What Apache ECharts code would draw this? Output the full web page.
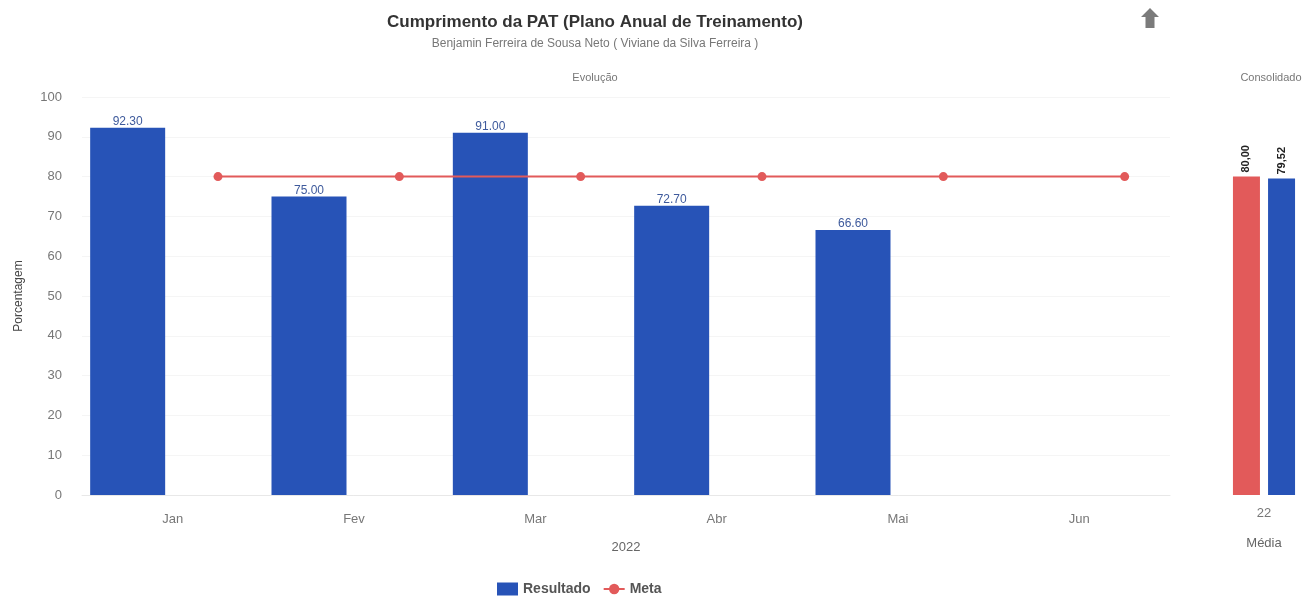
<!DOCTYPE html>
<html>
<head>
<meta charset="utf-8">
<title>Cumprimento da PAT</title>
<script src="https://cdn.jsdelivr.net/npm/echarts@6/dist/echarts.min.js"></script>
<style>
  html, body { margin: 0; padding: 0; background: #ffffff; }
  #chart { width: 1315px; height: 599px; }
</style>
</head>
<body>
<div id="chart"></div>
<script>
// Monthly results and target
const months = ['Jan', 'Fev', 'Mar', 'Abr', 'Mai', 'Jun'];
const resultado = [92.30, 75.00, 91.00, 72.70, 66.60, null];
const meta = [80, 80, 80, 80, 80, 80];

// Consolidated average panel
const consolidadoCategorias = ['22'];
const consolidadoMeta = [80.00];
const consolidadoResultado = [79.52];

const yTicks = [0, 10, 20, 30, 40, 50, 60, 70, 80, 90, 100];

const BLUE = '#2753b7';
const RED = '#e25a5a';
const FONT = 'Arial, "Liberation Sans", sans-serif';

const chart = echarts.init(document.getElementById('chart'));

// Meta points sit in the right-hand slot of each month band
const metaPoints = meta.map((v, i) => [i + 0.75, v]);

const avgLabel = {
  show: true, position: 'top', rotate: 90, distance: 4,
  align: 'left', verticalAlign: 'middle',
  fontSize: 11, fontWeight: 'bold', color: '#222',
  formatter: p => p.value.toFixed(2).replace('.', ',')
};

chart.setOption({
  animation: false,
  textStyle: { fontFamily: FONT },
  title: [
    {
      text: 'Cumprimento da PAT (Plano Anual de Treinamento)',
      subtext: 'Benjamin Ferreira de Sousa Neto ( Viviane da Silva Ferreira )',
      left: 590, top: 9, textAlign: 'center',
      textStyle: { fontSize: 17, fontWeight: 'bold', color: '#333' },
      subtextStyle: { fontSize: 12, color: '#777' },
      itemGap: 7
    },
    {
      text: 'Evolução', left: 590, top: 67, textAlign: 'center',
      textStyle: { fontSize: 11, fontWeight: 'normal', color: '#777' }
    },
    {
      text: 'Consolidado', left: 1266, top: 67, textAlign: 'center',
      textStyle: { fontSize: 11, fontWeight: 'normal', color: '#777' }
    }
  ],
  legend: {
    bottom: -2, left: 492,
    itemWidth: 21, itemHeight: 13, itemGap: 12,
    textStyle: { fontSize: 14, fontWeight: 'bold', color: '#555' },
    data: [
      { name: 'Resultado', icon: 'rect' },
      { name: 'Meta' }
    ]
  },
  graphic: [
    {
      type: 'polygon', left: 1141, top: 8, z: 10,
      shape: { points: [[9, 0], [18, 9], [13.5, 9], [13.5, 20], [4.5, 20], [4.5, 9], [0, 9]] },
      style: { fill: '#7b7b7b' }
    }
  ],
  grid: [
    { left: 82, right: 145, top: 97, bottom: 104 },
    { left: 1228, right: 15, top: 97, bottom: 104 }
  ],
  xAxis: [
    {
      type: 'category', gridIndex: 0, data: months,
      name: '2022', nameLocation: 'middle', nameGap: 46,
      nameTextStyle: { fontSize: 13, color: '#666' },
      axisLine: { show: true, lineStyle: { color: '#e8e8e8' } },
      axisTick: { show: false },
      axisLabel: { fontSize: 13, color: '#777', margin: 18 }
    },
    {
      type: 'value', gridIndex: 0, min: 0, max: 6, show: false
    },
    {
      type: 'category', gridIndex: 1, data: consolidadoCategorias,
      name: 'Média', nameLocation: 'middle', nameGap: 42,
      nameTextStyle: { fontSize: 13, color: '#666' },
      axisLine: { show: false },
      axisTick: { show: false },
      axisLabel: { fontSize: 13, color: '#777', margin: 12 }
    }
  ],
  yAxis: [
    {
      type: 'value', gridIndex: 0, min: 0, max: 100, interval: 10,
      name: 'Porcentagem', nameLocation: 'middle', nameGap: 57, nameRotate: 90,
      nameTextStyle: { fontSize: 12, color: '#444' },
      axisLine: { show: false }, axisTick: { show: false },
      axisLabel: {
        fontSize: 13, color: '#777', margin: 20,
        formatter: v => yTicks.includes(v) ? String(v) : ''
      },
      splitLine: { lineStyle: { color: '#f5f5f5' } }
    },
    {
      type: 'value', gridIndex: 1, min: 0, max: 100, show: false
    }
  ],
  series: [
    {
      name: 'Resultado', type: 'bar', xAxisIndex: 0, yAxisIndex: 0,
      data: resultado, barWidth: 75, barGap: '20%',
      itemStyle: { color: BLUE },
      label: {
        show: true, position: 'top', distance: 0,
        fontSize: 12, color: '#3e5a9c',
        formatter: p => p.value == null ? '' : p.value.toFixed(2)
      },
      z: 2
    },
    {
      // empty right-hand slot of each month band
      name: 'slot', type: 'bar', xAxisIndex: 0, yAxisIndex: 0,
      data: meta.map(() => 0), barWidth: 75,
      itemStyle: { color: 'transparent' }, silent: true
    },
    {
      name: 'Meta', type: 'line', xAxisIndex: 1, yAxisIndex: 0,
      data: metaPoints,
      symbol: 'circle', symbolSize: 9,
      lineStyle: { color: RED, width: 2 },
      itemStyle: { color: RED },
      z: 5
    },
    {
      name: 'Meta média', type: 'bar', xAxisIndex: 2, yAxisIndex: 1,
      data: consolidadoMeta, barWidth: 27, barGap: '30%',
      itemStyle: { color: RED },
      label: avgLabel
    },
    {
      name: 'Resultado médio', type: 'bar', xAxisIndex: 2, yAxisIndex: 1,
      data: consolidadoResultado, barWidth: 27,
      itemStyle: { color: BLUE },
      label: avgLabel
    }
  ]
});
</script>
</body>
</html>
